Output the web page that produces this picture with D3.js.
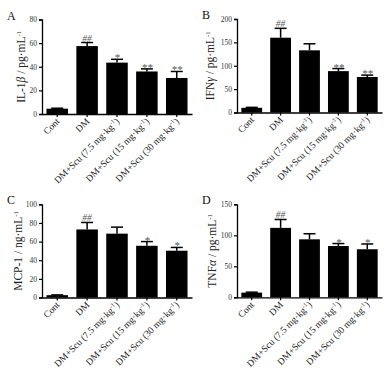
<!DOCTYPE html>
<html>
<head>
<meta charset="utf-8">
<script src="https://d3js.org/d3.v7.min.js"></script>
<style>
  body { margin: 0; background: #fff; }
  text { font-family: "Liberation Serif", "Times New Roman", serif; }
</style>
</head>
<body>
<div id="viz"></div>
<script>
// "^" marks the start and end of a superscript
var groups = ['Cont', 'DM', 'DM+Scu (7.5 mg·kg^-1^)', 'DM+Scu (15 mg·kg^-1^)', 'DM+Scu (30 mg·kg^-1^)'];

var il1bMean = [4.5, 57.5, 43.5, 36, 30.5],
    il1bErr  = [0.4, 3, 2.8, 2.2, 5.5],
    il1bSig  = ['', '##', '*', '**', '**'];

var ifngMean = [10, 160, 133, 88.5, 76],
    ifngErr  = [1, 20, 14, 5.5, 4],
    ifngSig  = ['', '##', '', '**', '**'];

var mcp1Mean = [2.5, 73, 68.5, 55.5, 50.2],
    mcp1Err  = [0.3, 7.5, 7, 4.5, 3.5],
    mcp1Sig  = ['', '##', '', '*', '*'];

var tnfaMean = [7.5, 112, 93.5, 82.7, 77.5],
    tnfaErr  = [0.8, 13.5, 9, 4, 8.5],
    tnfaSig  = ['', '##', '', '*', '*'];

var il1bTicks = [0, 20, 40, 60, 80],
    ifngTicks = [0, 50, 100, 150, 200],
    mcp1Ticks = [0, 20, 40, 60, 80, 100],
    tnfaTicks = [0, 50, 100, 150];

var panels = [
  {letter: 'A', name: 'IL-1', greek: 'β', unit: ' / pg·mL', mean: il1bMean, err: il1bErr, sig: il1bSig, ticks: il1bTicks,
   x0: 42, x1: 192, top: 19.5, bottom: 114, labelX: 25},
  {letter: 'B', name: 'IFN', greek: 'γ', unit: ' / pg·mL', mean: ifngMean, err: ifngErr, sig: ifngSig, ticks: ifngTicks,
   x0: 237, x1: 382, top: 19, bottom: 112.5, labelX: 214},
  {letter: 'C', name: 'MCP-1 / ng·mL', greek: '', unit: '', mean: mcp1Mean, err: mcp1Err, sig: mcp1Sig, ticks: mcp1Ticks,
   x0: 42, x1: 192, top: 204.3, bottom: 297.5, labelX: 22},
  {letter: 'D', name: 'TNF', greek: 'α', unit: ' / pg·mL', mean: tnfaMean, err: tnfaErr, sig: tnfaSig, ticks: tnfaTicks,
   x0: 237, x1: 382, top: 204.3, bottom: 297.3, labelX: 216}
];

var svg = d3.select("#viz")
            .append("svg")
            .attr("width", 390)
            .attr("height", 374);

function supText(sel, str, size) {
  var parts = str.split('^');
  parts.forEach(function(s, i) {
    var t = sel.append("tspan").text(s);
    if (i == 1) t.attr("dy", -size * 0.38).style("font-size", (size * 0.65) + "px");
    if (i == 2) t.attr("dy", size * 0.38);
  });
}

panels.forEach(function(p) {

  var x = d3.scaleBand()
            .domain(groups)
            .range([p.x0, p.x1])
            .paddingInner(0.28)
            .paddingOuter(0.15);

  var y = d3.scaleLinear()
            .domain([0, d3.max(p.ticks)])
            .range([p.bottom, p.top]);

  var g = svg.append("g");

  // bars
  g.selectAll("rect.bar")
   .data(p.mean)
   .enter()
   .append("rect")
   .attr("class", "bar")
   .attr("x", (d, i) => x(groups[i]))
   .attr("width", x.bandwidth())
   .attr("y", d => y(d))
   .attr("height", d => y(0) - y(d))
   .style("fill", "#000");

  // error bars, upper half only
  var capW = 12;
  g.selectAll("line.err")
   .data(p.mean)
   .enter()
   .append("line")
   .attr("class", "err")
   .attr("x1", (d, i) => x(groups[i]) + x.bandwidth() / 2)
   .attr("x2", (d, i) => x(groups[i]) + x.bandwidth() / 2)
   .attr("y1", d => y(d))
   .attr("y2", (d, i) => y(d + p.err[i]))
   .style("stroke", "#000")
   .style("stroke-width", 1.5);

  g.selectAll("line.cap")
   .data(p.mean)
   .enter()
   .append("line")
   .attr("class", "cap")
   .attr("x1", (d, i) => x(groups[i]) + x.bandwidth() / 2 - capW / 2)
   .attr("x2", (d, i) => x(groups[i]) + x.bandwidth() / 2 + capW / 2)
   .attr("y1", (d, i) => y(d + p.err[i]))
   .attr("y2", (d, i) => y(d + p.err[i]))
   .style("stroke", "#000")
   .style("stroke-width", 1.5);

  // significance marks
  g.selectAll("text.sig")
   .data(p.sig)
   .enter()
   .append("text")
   .attr("class", "sig")
   .attr("x", (d, i) => x(groups[i]) + x.bandwidth() / 2)
   .attr("y", (d, i) => y(p.mean[i] + p.err[i]) + (d.charAt(0) == '*' ? 2 : -1))
   .attr("text-anchor", "middle")
   .style("font-size", d => d.charAt(0) == '*' ? "11px" : "9.5px")
   .style("font-style", "italic")
   .style("fill", "#555")
   .text(d => d);

  // y axis
  var yAxis = g.append("g")
               .attr("transform", "translate(" + p.x0 + ",0)")
               .call(d3.axisLeft(y).tickValues(p.ticks).tickSize(3).tickPadding(2));
  yAxis.select(".domain").style("stroke-width", 1.3);
  yAxis.selectAll(".tick line").style("stroke-width", 1.2);
  yAxis.selectAll(".tick text")
       .style("font-family", "Liberation Serif, serif")
       .style("font-size", "7.5px")
       .style("fill", "#333");

  // x axis
  var xAxis = g.append("g")
               .attr("transform", "translate(0," + p.bottom + ")")
               .call(d3.axisBottom(x).tickSize(3).tickSizeOuter(0).tickFormat(""));
  xAxis.select(".domain").style("stroke-width", 1.3);
  xAxis.selectAll(".tick line").style("stroke-width", 1.2);

  var fs = 9.5;
  g.selectAll("text.xlab")
   .data(groups)
   .enter()
   .append("text")
   .attr("class", "xlab")
   .attr("text-anchor", "end")
   .attr("transform", d => "translate(" + (x(d) + x.bandwidth() / 2 + 3) + "," + (p.bottom + 8) + ") rotate(-45)")
   .style("font-size", fs + "px")
   .style("fill", "#222")
   .each(function(d) { supText(d3.select(this), d, fs); });

  // y label
  var ls = 11.5;
  var ylab = g.append("text")
              .attr("text-anchor", "middle")
              .attr("transform", "translate(" + p.labelX + "," + ((p.top + p.bottom) / 2) + ") rotate(-90)")
              .style("font-size", ls + "px")
              .style("fill", "#222");
  ylab.append("tspan").text(p.name);
  if (p.greek) ylab.append("tspan").style("font-style", "italic").text(p.greek);
  ylab.append("tspan").text(p.unit);
  ylab.append("tspan")
      .attr("dy", -ls * 0.38)
      .style("font-size", (ls * 0.6) + "px")
      .text("-1");

  // panel letter
  g.append("text")
   .attr("x", p.x0 - 35)
   .attr("y", p.top)
   .style("font-size", "12px")
   .style("fill", "#111")
   .text(p.letter);
});
</script>
</body>
</html>
